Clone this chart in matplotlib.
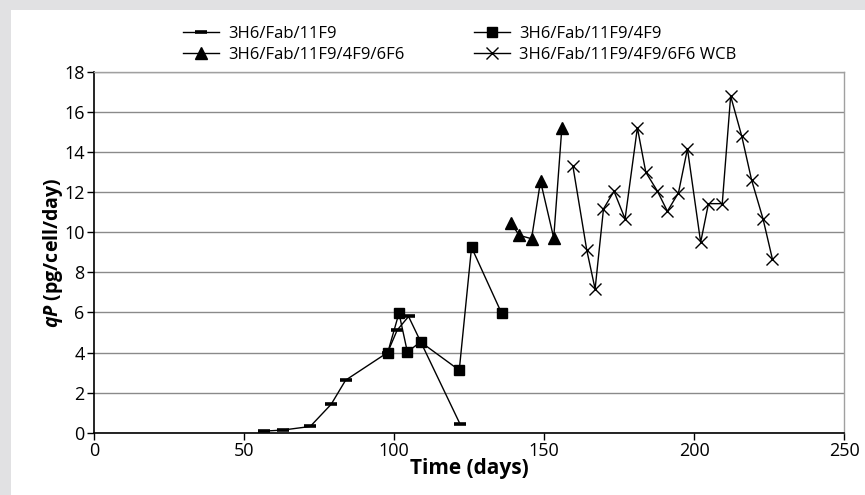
import matplotlib
matplotlib.use("Agg")
import matplotlib.pyplot as plt
from matplotlib.patches import Rectangle

plt.rcParams['font.family'] = ['Open Sans', 'DejaVu Sans']
plt.rcParams['mathtext.fontset'] = 'custom'
plt.rcParams['mathtext.bfit'] = 'Open Sans:italic:bold'
plt.rcParams['mathtext.rm'] = 'Open Sans'

# data
labels = ["3H6/Fab/11F9", "3H6/Fab/11F9/4F9",
          "3H6/Fab/11F9/4F9/6F6", "3H6/Fab/11F9/4F9/6F6 WCB"]

days_a = [56.7, 62.8, 72.0, 79.0, 83.8, 97.8, 101.0, 104.8, 122.0]
qp_a = [0.08, 0.13, 0.31, 1.42, 2.62, 4.0, 5.12, 5.8, 0.42]

days_b = [97.8, 101.6, 104.4, 108.8, 121.7, 125.8, 135.8]
qp_b = [3.97, 5.97, 4.03, 4.53, 3.12, 9.25, 5.97]

days_c = [138.9, 141.7, 145.8, 148.8, 153.2, 155.9]
qp_c = [10.47, 9.85, 9.68, 12.55, 9.72, 15.19]

days_d = [159.6, 164.2, 167.0, 169.8, 173.3, 177.0, 181.1, 183.9, 187.8,
          191.1, 194.8, 197.8, 202.2, 204.8, 209.4, 212.2, 215.9, 219.2,
          223.0, 226.1]
qp_d = [13.3, 9.13, 7.17, 11.17, 12.05, 10.67, 15.22, 13.0, 12.05,
        11.05, 11.97, 14.17, 9.5, 11.43, 11.43, 16.8, 14.8, 12.6,
        10.67, 8.68]

fig = plt.figure(figsize=(8.65, 4.95), dpi=100, facecolor="#e1e1e3")
fig.patches.append(Rectangle((11 / 865, 0), 1, 1 - 10 / 495,
                             transform=fig.transFigure, facecolor="white",
                             edgecolor="none", zorder=-10))

ax = fig.add_axes([94.3 / 865, 1 - 432.7 / 495, (844 - 94.3) / 865, (432.7 - 72) / 495])
ax.set_facecolor("white")

la, = ax.plot(days_a, qp_a, color="black", lw=1, marker="_", ms=9, mew=2.6, label=labels[0])
lb, = ax.plot(days_b, qp_b, color="black", lw=1, marker="s", ms=7.5, label=labels[1])
lc, = ax.plot(days_c, qp_c, color="black", lw=1, marker="^", ms=8.5, label=labels[2])
ld, = ax.plot(days_d, qp_d, color="black", lw=1, marker="x", ms=8, mew=1, label=labels[3])

ax.set_xlim(0, 250)
ax.set_ylim(0, 18)
ax.set_xticks(range(0, 251, 50))
ax.set_yticks(range(0, 19, 2))
ax.yaxis.grid(True, color="#8a8a8a", lw=1)
ax.set_axisbelow(True)

for s in ["left", "bottom"]:
    ax.spines[s].set_color("black")
    ax.spines[s].set_linewidth(1.2)
for s in ["top", "right"]:
    ax.spines[s].set_color("#a0a0a0")
    ax.spines[s].set_linewidth(1)
ax.tick_params(direction="out", length=5, width=1, labelsize=13, pad=2, colors="black")

ax.set_xlabel("Time (days)", fontsize=15, fontweight="bold", labelpad=-2)
ax.set_ylabel(r"$\mathbfit{qP}$ (pg/cell/day)", fontsize=14, fontweight="bold", labelpad=-1)

# legend is filled row-wise in the reference
fig.legend([la, lc, lb, ld], [labels[0], labels[2], labels[1], labels[3]],
           loc="upper left", bbox_to_anchor=(183 / 865, 1 - 26 / 495), ncol=2,
           frameon=False, fontsize=12, handlelength=2.15, handletextpad=0.55,
           columnspacing=4.2, labelspacing=0.3, borderpad=0, borderaxespad=0)

fig.savefig("out.png", dpi=100, facecolor=fig.get_facecolor())
